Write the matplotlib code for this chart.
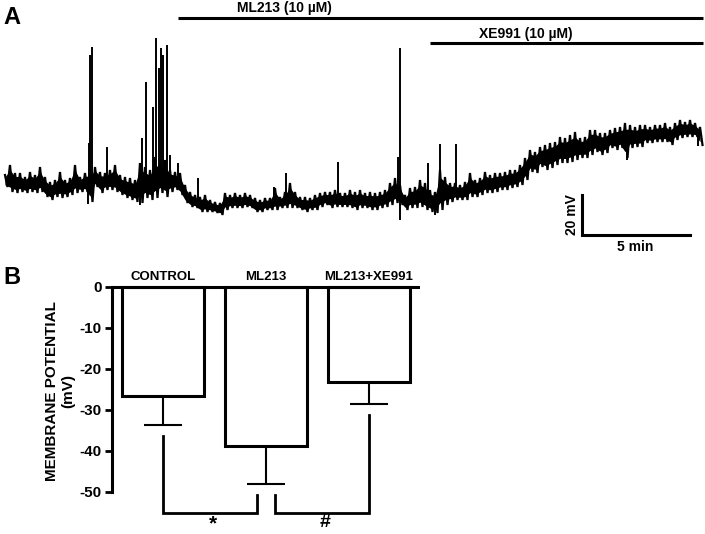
import matplotlib
matplotlib.use("Agg")
import matplotlib.pyplot as plt
import numpy as np

plt.rcParams["font.family"] = ["Liberation Sans", "DejaVu Sans"]
plt.rcParams["font.weight"] = "bold"

# ---- panel A: membrane potential trace, mV relative to the start ----
# upper / lower edge of the noisy trace, one reading every ~14 s
sample_min = 0.2315
trace_hi = [2.5, 7.5, 3.5, 3.5, 1.5, 4, 2.5, 6.5, 1.5, -1,
            0, 4, 0, 1, 7.5, 1.5, 3.5, 5, 6.5, 4,
            3.5, 5, 7.5, 2.5, 1.5, 1, 0, 8.5, 6.5, 5,
            11.5, 8.5, 10, 5,
            4, 3.5, -2.5, -6, -7.5, -8.5, -7.5, -10, -11, -11.5,
            -6.5, -7.5, -6.5, -7.5, -6.5, -7.5, -9, -10, -9, -9,
            -4, -8.5, -6, -1.5, -6, -8.5, -8.5, -9, -7.5, -6.5,
            -6, -6, -5, -6.5, -6.5,
            -5, -6, -5, -6.5, -6, -6.5, -6, -5, -1.5, 1,
            -2.5, -7.5, -4, -3.5, 0, -1.5, -5, -6, 5, 1.5,
            -1.5, -1.5, -2.5, -1, 3.5, 0, 1, 4, 2.5, 3.5,
            3.5, 4, 5, 5, 7.5,
            11, 15, 14, 16.5, 17.5, 18.5, 19, 21.5, 21, 22.5,
            24, 21, 21.5, 25, 25, 23.5, 23.5, 25, 26, 26.5,
            28.5, 27.5, 26.5, 27.5, 27.5, 26.5, 27.5, 27.5, 28.5, 26.5,
            28.5, 30, 29, 30, 28.5, 26.5]
trace_lo = [-3.5, -6, -6.5, -6, -6.5, -6, -6.5, -6, -8.5, -10,
            -8.5, -9, -8.5, -7.5, -6.5, -6, -6, -11, -3.5, -6.5,
            -5, -5, -6, -7.5, -9, -10, -11, -11.5, -9, -10,
            -9, -6.5, -8.5, -6,
            -5, -7.5, -11.5, -13.5, -14, -16, -16, -16, -16.5, -17.5,
            -15, -14, -14, -14, -13.5, -14, -16, -16, -15, -15,
            -15, -14, -14, -14, -14, -15, -16, -15, -15, -13.5,
            -12.5, -14, -13.5, -13.5, -13.5,
            -14, -15, -14, -14, -15, -15, -14, -13.5, -12.5, -11.5,
            -12.5, -15, -14, -14, -13.5, -15, -16, -16.5, -15, -12.5,
            -11, -10, -10, -10, -8.5, -8.5, -7.5, -6.5, -6.5, -6,
            -5, -5, -4, -3.5, -2.5,
            0, 4, 3.5, 6.5, 5, 6, 7.5, 8.5, 8.5, 9,
            10, 11, 11, 12.5, 14, 12.5, 13.5, 16, 15, 16,
            11, 16, 16.5, 16.5, 18.5, 18.5, 19, 19, 19, 17.5,
            20, 21, 21.5, 21.5, 21.5, 17.5]

# action potentials and fast excursions beyond the noise band (min, mV)
spike_t = [3.84, 3.89, 3.94, 4.03, 4.72, 6.25, 6.34, 6.53, 6.85, 6.99,
           7.13, 7.22, 7.31, 7.50, 7.64, 8.01, 8.94, 12.45, 13.01, 15.42,
           18.19, 18.29, 18.29, 19.58, 19.91, 20.14, 20.88, 28.80, 32.08]
spike_v = [-12, 18.5, 62.5, 66.5, 16.5, -12.5, 21, 49, 36.5, 71,
           56, 66, 62.5, 67.5, 12.5, 8.5, 1, -3.5, 3.5, 9,
           11.5, 66, -20, 8.5, -17.5, 18, 18, 10, 17]

ml213_on = 8.0
xe991_on = 19.7
t_end = 32.3

# ---- panel B: mean membrane potential ----
groups = ["CONTROL", "ML213", "ML213+XE991"]
means = [-26.6, -38.9, -23.2]
sems = [7.1, 9.2, 5.4]

fig = plt.figure(figsize=(7.05, 5.34), dpi=100)

# panel A
axA = fig.add_axes([0, 1 - 255 / 534, 1, 255 / 534])
axA.set_xlim(-0.231, 32.41)
axA.set_ylim(-37.5, 90)
axA.axis("off")

hi = np.array(trace_hi)
lo = np.array(trace_lo)
t = np.arange(len(hi)) * sample_min
# trace swings between the upper and lower edge every half sample
zig_t = np.column_stack([t, t + sample_min / 2]).ravel()
zig_v = np.column_stack([hi, lo]).ravel()
axA.plot(zig_t, zig_v, color="black", lw=1.6, solid_joinstyle="miter")
mid = (hi + lo) / 2
axA.fill_between(t, mid - (hi - lo) * 0.32, mid + (hi - lo) * 0.32, color="black", lw=0)
base = np.interp(spike_t, t, mid)
axA.vlines(spike_t, base, spike_v, color="black", lw=1.4)

axA.plot([ml213_on, t_end], [81.2, 81.2], color="black", lw=2.2, solid_capstyle="butt")
axA.text(12.96, 86, "ML213 (10 µM)", ha="center", va="center", fontsize=10, fontweight="bold")
axA.plot([xe991_on, t_end], [68.4, 68.4], color="black", lw=2.2, solid_capstyle="butt")
axA.text(24.1, 73, "XE991 (10 µM)", ha="center", va="center", fontsize=10, fontweight="bold")

# scale bar: 5 min x 20 mV
sb_t, sb_v = 26.7, -27.5
axA.plot([sb_t, sb_t, sb_t + 5], [sb_v + 20, sb_v, sb_v], color="black", lw=2.2,
         solid_joinstyle="miter")
axA.text(sb_t - 0.45, sb_v + 10, "20 mV", rotation=90, ha="center", va="center",
         fontsize=10, fontweight="bold")
axA.text(sb_t + 2.5, sb_v - 6, "5 min", ha="center", va="center", fontsize=10,
         fontweight="bold")

fig.text(3 / 705, 1 - 18 / 534, "A", fontsize=17, fontweight="bold", va="center", ha="left")
fig.text(3 / 705, 1 - 277 / 534, "B", fontsize=17, fontweight="bold", va="center", ha="left")

# panel B
axB = fig.add_axes([111.7 / 705, 0, (420 - 111.7) / 705, 254 / 534])
axB.set_xlim(-0.498, 2.495)
axB.set_ylim(-60.3, 1.63)
x = np.arange(len(groups))
axB.bar(x, means, width=0.8, color="white", edgecolor="black", linewidth=2.2, zorder=2)
axB.errorbar(x, means, yerr=[sems, [0] * len(sems)], fmt="none", ecolor="black",
             elinewidth=1.5, capsize=14, capthick=1.5, zorder=1)
axB.axhline(0, color="black", lw=2.2, zorder=3)
for xi, g in zip(x, groups):
    axB.text(xi, 2.4, g, ha="center", va="center", fontsize=9.5, fontweight="bold")

for s in ["top", "right", "bottom"]:
    axB.spines[s].set_visible(False)
axB.spines["left"].set_linewidth(2.2)
axB.spines["left"].set_bounds(-50, 0)
axB.set_yticks([0, -10, -20, -30, -40, -50])
axB.set_yticklabels(["0", "-10", "-20", "-30", "-40", "-50"], fontsize=11, fontweight="bold")
axB.tick_params(axis="y", length=5, width=2, pad=2)
axB.set_xticks([])
axB.text(-0.168, -25.4, "MEMBRANE POTENTIAL\n(mV)", transform=axB.get_yaxis_transform(),
         rotation=90, ha="center", va="center", multialignment="center",
         fontsize=11, fontweight="bold", linespacing=1.25)

# significance brackets
ends = np.array(means) - np.array(sems)
gap, low = 2.8, -55.1
axB.plot([0, 0, 0.91, 0.91], [ends[0] - gap, low, low, ends[1] - gap], color="black",
         lw=2, solid_joinstyle="miter")
axB.plot([1.09, 1.09, 2, 2], [ends[1] - gap, low, low, ends[2] - gap], color="black",
         lw=2, solid_joinstyle="miter")
axB.text(0.485, -60.15, "*", ha="center", va="bottom", fontsize=15, fontweight="bold")
axB.text(1.57, -57.6, "#", ha="center", va="center", fontsize=14, fontweight="bold")

fig.savefig("out.png", dpi=100)
